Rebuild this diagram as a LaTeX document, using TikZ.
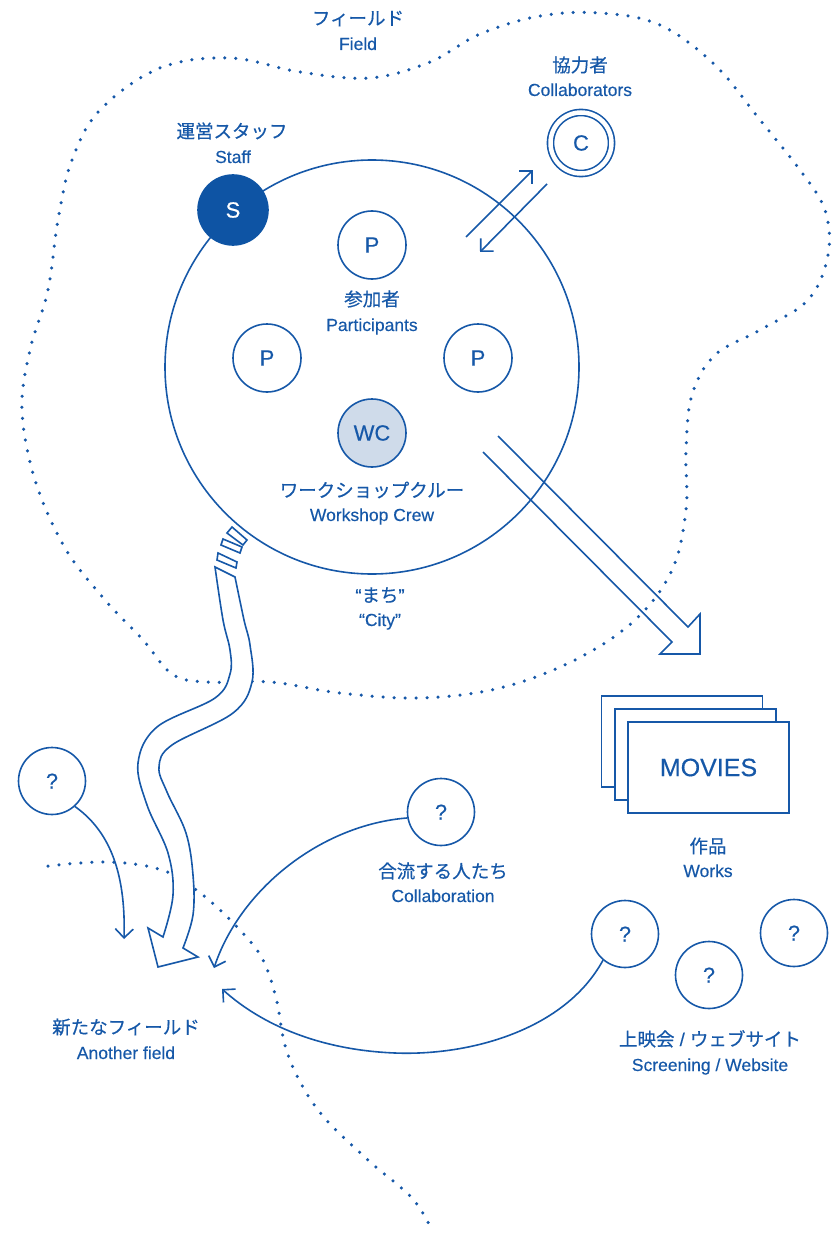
\documentclass[tikz,border=0pt]{standalone}
\usepackage{fontspec}
\setmainfont{Liberation Sans}[FakeBold=0.35]
\newfontfamily\en{Liberation Sans}[FakeBold=0.35]
\newfontfamily\jp{Noto Sans CJK JP}[FakeBold=0.45]
\usetikzlibrary{arrows.meta}
\definecolor{bl}{RGB}{22,88,168}
\definecolor{staffblue}{RGB}{14,84,164}
\definecolor{wcfill}{RGB}{207,219,234}
\begin{document}
\begin{tikzpicture}[x=1pt,y=-1pt,line width=1.6pt,color=bl,line join=miter,
  pc/.style={circle,draw,minimum size=68pt,inner sep=0pt,font=\en\fontsize{22}{22}\selectfont},
  qc/.style={circle,draw,minimum size=67pt,inner sep=0pt,font=\en\fontsize{21.5}{21.5}\selectfont},
  jt/.style={anchor=base,inner sep=0pt,font=\jp\fontsize{18.5}{18.5}\selectfont},
  et/.style={anchor=base,inner sep=0pt,font=\en\fontsize{17.5}{17.5}\selectfont},
  fielddots/.style={line width=3.5pt,line cap=round,dash pattern=on 0pt off 11pt},
  arr/.style={-{Straight Barb[length=9pt,width=18pt]}},
  moviebox/.style={draw,fill=white,minimum width=161pt,minimum height=91pt,inner sep=0pt}]
\useasboundingbox (0,0) rectangle (839,1233);

% field boundary
\draw[fielddots] plot[smooth cycle,tension=0.6] coordinates {
 (100,110) (160,68) (230,58) (300,72) (370,78) (430,62) (480,34) (540,16) (600,13)
 (660,25) (715,65) (760,120) (800,170) (825,210) (828,255) (808,300) (760,330)
 (715,355) (692,395) (686,450) (686,510) (672,570) (635,620) (575,660) (500,688)
 (420,698) (340,693) (270,682) (206,682) (172,674) (143,640) (105,600) (65,548)
 (35,480) (22,410) (30,350) (48,290) (58,220) (72,160)};

% another field boundary
\draw[fielddots] plot[smooth,tension=0.6] coordinates {
 (48,866) (110,862) (165,871) (204,896) (238,928) (262,958) (276,998) (288,1055)
 (318,1110) (368,1160) (412,1198) (433,1232)};

% city
\node[circle,draw,minimum size=414pt,inner sep=0pt] (city) at (372,367) {};

% staff
\node[circle,fill=staffblue,draw=staffblue,minimum size=70pt,inner sep=0pt,text=white,font=\en\fontsize{22}{22}\selectfont] (staff) at (233,210) {S};
\node[jt] (staffj) at (232,138) {運営スタッフ};
\node[et] (staffe) at (233,163) {Staff};

% participants
\node[pc] (p1) at (372,245) {P};
\node[pc] (p2) at (267,358) {P};
\node[pc] (p3) at (478,358) {P};
\node[jt] (pj) at (372,306) {参加者};
\node[et] (pe) at (372,331) {Participants};
\node[pc,fill=wcfill] (wc) at (372,433) {WC};
\node[jt] (wcj) at (372,497) {ワークショップクルー};
\node[et] (wce) at (372,521) {Workshop Crew};
\node[jt] (cityj) at (380,602) {{\en “}まち{\en ”}};
\node[et] (citye) at (380,626) {“City”};

% field label
\node[jt] (fieldj) at (358,25) {フィールド};
\node[et] (fielde) at (358,50) {Field};

% collaborators
\node[circle,draw,double,double distance=4.5pt,minimum size=61pt,inner sep=0pt,font=\en\fontsize{22}{22}\selectfont] (coll) at (581,143) {C};
\node[jt] (collj) at (580,72) {協力者};
\node[et] (colle) at (580,96) {Collaborators};
\coordinate (a1s) at (466,237);
\coordinate (a1e) at (533,170);
\coordinate (a2s) at (547,184);
\coordinate (a2e) at (480,252);
\draw[arr] (a1s) -- (a1e);
\draw[arr] (a2s) -- (a2e);

% big hollow arrow to works
\draw (483,452) -- (672,642) -- (660,654) -- (700,654) -- (700,614) -- (688,627) -- (498,436);

% movies
\node[moviebox] (m1) at (682,741.5) {};
\node[moviebox] (m2) at (695.5,754.5) {};
\node[moviebox,font=\en\fontsize{25}{25}\selectfont] (m3) at (708.5,767.5) {MOVIES};
\node[jt] (worksj) at (708,853) {作品};
\node[et] (workse) at (708,877) {Works};

% wavy hollow arrow
\draw[fill=white] plot[smooth,tension=0.6] coordinates {
 (215,567) (223,620) (230,650) (230,674) (215,698) (157,727) (138,763) (147,805)
 (168,853) (173,895) (163,937)}
 -- (148,928) -- (158,967) -- (198,957) -- (183,948)
 -- plot[smooth,tension=0.6] coordinates {
 (183,948) (193,915) (193,875) (186,833) (167,792) (159,767) (172,745) (233,713)
 (252,682) (250,645) (244,620) (235,577)} -- cycle;
\draw (232,527) -- (247,540) -- (243,545) -- (227,533) -- cycle;
\draw (223,539) -- (242,547) -- (240,553) -- (221,545) -- cycle;
\draw (218,553) -- (237,562) -- (236,568) -- (217,560) -- cycle;

% question circles
\node[qc] (q1) at (52,781) {?};
\node[qc] (q2) at (441,812) {?};
\node[qc] (q3) at (625,934) {?};
\node[qc] (q4) at (709,975) {?};
\node[qc] (q5) at (794,933) {?};
\node[jt] (collabj) at (443,878) {合流する人たち};
\node[et] (collabe) at (443,902) {Collaboration};
\node[jt] (screenj) at (710,1046) {上映会{\en\ / }ウェブサイト};
\node[et] (screene) at (710,1071) {Screening / Website};
\node[jt] (anotherj) at (126,1034) {新たなフィールド};
\node[et] (anothere) at (126,1059) {Another field};

% thin arrows
\coordinate (t1) at (124,939);
\coordinate (t2) at (214,968);
\coordinate (t3) at (222,989);
\draw[arr] (q1.-48) .. controls (108,830) and (126,870) .. (t1);
\draw[arr] (q2.190) .. controls (320,825) and (240,890) .. (t2);
\draw[arr] (q3.-130) .. controls (565,1030) and (470,1056) .. (395,1053) .. controls (320,1050) and (262,1025) .. (t3);
\end{tikzpicture}
\end{document}
